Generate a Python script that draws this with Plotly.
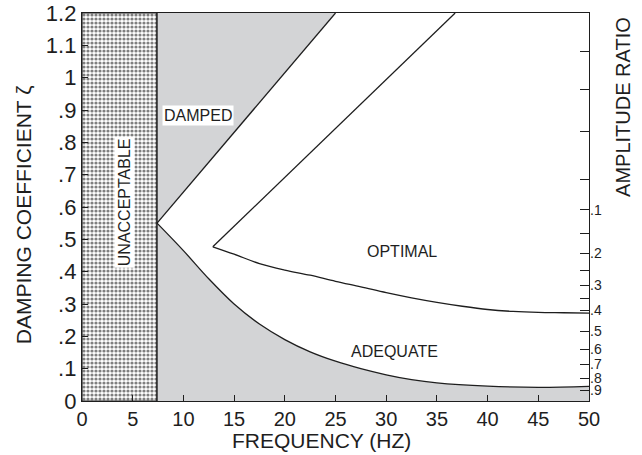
import numpy as np
import plotly.graph_objects as go

# --- data ---
unacc_x = 7.4                      # boundary of unacceptable region (Hz)
damped_x = [7.4, 25.0]
damped_y = [0.55, 1.2]

adequate_x = [7.4, 10, 12.5, 15, 17.5, 20, 22.5, 25, 27.5, 30, 32.5, 35, 40, 45, 50]
adequate_y = [0.55, 0.465, 0.378, 0.30, 0.238, 0.19, 0.152, 0.123, 0.10, 0.081, 0.066, 0.056, 0.046, 0.042, 0.045]

opt_upper_x = [12.9, 36.8]
opt_upper_y = [0.477, 1.2]
opt_lower_x = [12.9, 15, 17.5, 20, 22.5, 25, 27.5, 30, 32.5, 35, 37.5, 40, 42.5, 45, 47.5, 50]
opt_lower_y = [0.477, 0.454, 0.425, 0.405, 0.389, 0.37, 0.353, 0.335, 0.319, 0.305, 0.293, 0.283, 0.277, 0.274, 0.273, 0.272]

x_ticks = [0, 5, 10, 15, 20, 25, 30, 35, 40, 45, 50]
y_ticks = [0, 0.1, 0.2, 0.3, 0.4, 0.5, 0.6, 0.7, 0.8, 0.9, 1.0, 1.1, 1.2]
y_labels = ["0", ".1", ".2", ".3", ".4", ".5", ".6", ".7", ".8", ".9", "1", "1.1", "1.2"]

ratio_ticks = [0.1, 0.2, 0.3, 0.4, 0.5, 0.6, 0.7, 0.8, 0.9]
ratio_labels = [".1", ".2", ".3", ".4", ".5", ".6", ".7", ".8", ".9"]
ratio_minor = [0.15, 0.25, 0.35]
extra_zeta_ticks = [1.08, 0.962, 0.832, 0.684]   # unlabeled ticks above .1


def zeta_of_ratio(r):
    # overshoot ratio  r = exp(-pi*z/sqrt(1-z^2))
    a = -np.log(r) / np.pi
    return float(np.sqrt(a * a / (1 + a * a)))


GREY = "#d3d4d6"
INK = "#1e1e1e"
FONT = "Liberation Sans"

fig = go.Figure()

# unacceptable (cross-hatched)
fig.add_trace(go.Scatter(
    x=[0, unacc_x, unacc_x, 0, 0], y=[0, 0, 1.2, 1.2, 0],
    mode="lines", fill="toself", fillcolor="white",
    fillpattern=dict(shape=".", size=4, solidity=0.5, fgcolor="black", bgcolor="white"),
    line=dict(color=INK, width=1.2), hoverinfo="skip", showlegend=False))

# grey damped region (upper-left triangle)
fig.add_trace(go.Scatter(
    x=[damped_x[0], damped_x[1], unacc_x, damped_x[0]],
    y=[damped_y[0], damped_y[1], 1.2, damped_y[0]],
    mode="none", fill="toself", fillcolor=GREY, hoverinfo="skip", showlegend=False))

line = dict(color=INK, width=1.3)
sline = dict(color=INK, width=1.3, shape="spline", smoothing=1.0)
# adequate boundary, grey below it
fig.add_trace(go.Scatter(x=adequate_x, y=adequate_y, mode="lines", line=sline, fill="tozeroy",
                         fillcolor=GREY, showlegend=False, hoverinfo="skip"))
fig.add_trace(go.Scatter(x=damped_x, y=damped_y, mode="lines", line=line, showlegend=False))
fig.add_trace(go.Scatter(x=opt_upper_x, y=opt_upper_y, mode="lines", line=line, showlegend=False))
fig.add_trace(go.Scatter(x=opt_lower_x, y=opt_lower_y, mode="lines", line=sline, showlegend=False))
fig.add_trace(go.Scatter(x=[unacc_x, unacc_x], y=[0, 1.2], mode="lines", line=line, showlegend=False))

# right axis dummy trace
fig.add_trace(go.Scatter(x=[0], y=[0], yaxis="y2", mode="markers", marker=dict(opacity=0),
                         showlegend=False, hoverinfo="skip"))

lab = dict(family=FONT, size=16, color=INK)
fig.add_annotation(x=11.45, y=0.882, text="DAMPED", showarrow=False, font=lab, bgcolor="white", borderpad=1)
fig.add_annotation(x=4.15, y=0.615, text="UNACCEPTABLE", textangle=-90, showarrow=False, font=lab,
                   bgcolor="white", borderpad=1)
fig.add_annotation(x=31.6, y=0.461, text="OPTIMAL", showarrow=False, font=lab)
fig.add_annotation(x=30.8, y=0.152, text="ADEQUATE", showarrow=False, font=lab)

title_font = dict(family=FONT, size=21, color=INK)
fig.add_annotation(x=1.0, xref="paper", xshift=34, y=0.758, yref="paper", text="AMPLITUDE RATIO",
                   xanchor="center", yanchor="middle",
                   textangle=-90, showarrow=False, font=dict(family=FONT, size=20, color=INK))
fig.add_annotation(x=0.0, xref="paper", xshift=-59, y=0.479, yref="paper", text="DAMPING COEFFICIENT ζ",
                   xanchor="center", yanchor="middle", textangle=-90, showarrow=False, font=title_font)
fig.add_annotation(x=0.473, xref="paper", y=0, yshift=-39, yref="paper", text="FREQUENCY (HZ)",
                   xanchor="center", yanchor="middle", showarrow=False, font=title_font)

r_vals = [zeta_of_ratio(r) for r in ratio_ticks]
r_minor = [zeta_of_ratio(r) for r in ratio_minor] + extra_zeta_ticks

fig.update_layout(
    width=642, height=455,
    margin=dict(l=82, r=53, t=13, b=54, autoexpand=False),
    paper_bgcolor="white", plot_bgcolor="white",
    font=dict(family=FONT, size=20, color=INK),
    xaxis=dict(range=[0, 50], tickvals=x_ticks, ticks="inside", ticklen=6, tickcolor=INK, automargin=False,
               showline=True, linecolor=INK, linewidth=1.3, mirror=True, showgrid=False, zeroline=False,
               tickfont=dict(family=FONT, size=20, color=INK)),
    yaxis=dict(range=[0, 1.2], tickvals=y_ticks, ticktext=y_labels, ticks="inside", ticklen=6, tickcolor=INK,
               automargin=False,
               showline=True, linecolor=INK, linewidth=1.3, mirror=True, showgrid=False, zeroline=False,
               tickfont=dict(family=FONT, size=22, color=INK)),
    yaxis2=dict(range=[0, 1.2], overlaying="y", side="right", tickvals=r_vals, ticktext=ratio_labels,
                ticks="inside", ticklen=9, tickcolor=INK, showgrid=False, zeroline=False, showline=False,
                automargin=False,
                tickfont=dict(family=FONT, size=14, color=INK),
                minor=dict(tickmode="array", tickvals=r_minor, ticks="inside", ticklen=9, tickcolor=INK)),
)

fig.write_html("out.html")
